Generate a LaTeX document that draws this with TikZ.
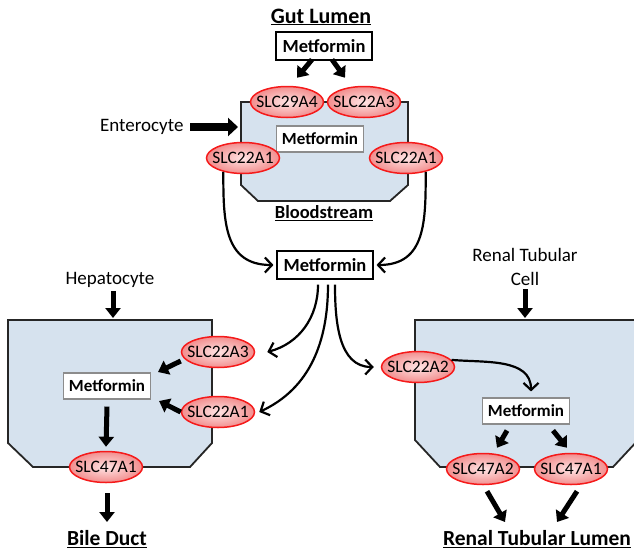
\documentclass[tikz,border=0pt]{standalone}
\usepackage{fontspec}
\setmainfont{Carlito}
\usetikzlibrary{arrows.meta,shapes.geometric,calc}
\definecolor{cellfill}{HTML}{D6E2EE}
\definecolor{slcred}{HTML}{F51A1A}
\definecolor{slcin}{HTML}{FFE4E4}
\definecolor{slcout}{HTML}{F28E8E}
\begin{document}
\begin{tikzpicture}[x=1pt,y=-1pt,
  cell/.style={fill=cellfill,draw=black!85,line width=1.8pt,line join=miter},
  slc/.style={ellipse,draw=slcred,line width=1.5pt,shading=radial,inner color=slcin,outer color=slcout,minimum width=73pt,minimum height=31pt,inner xsep=-6.5pt,inner ysep=0pt,font=\fontsize{17.5}{18}\selectfont},
  metbox/.style={draw=black,line width=1.1pt,fill=white,font=\bfseries\fontsize{18.5}{19}\selectfont,minimum width=96pt,minimum height=28pt,inner sep=0pt},
  metin/.style={draw=black!45,line width=1.1pt,fill=white,font=\bfseries\fontsize{17}{17}\selectfont,minimum width=87pt,minimum height=26pt,inner sep=0pt},
  title/.style={font=\bfseries\fontsize{21.5}{22}\selectfont},
  lbl/.style={font=\fontsize{19}{24}\selectfont,align=center},
  tarr/.style={line width=5pt,-{Triangle[length=10pt,width=15pt]}},
  carr/.style={line width=2.2pt,-{Straight Barb[length=7pt,width=15pt]}},
]
\useasboundingbox (0,0) rectangle (634,551);
\begin{scope}
\clip (0,0) rectangle (634,551);
% cells
\draw[cell] (241,102) -- (408,102) -- (408,185) -- (390,201) -- (258,201) -- (241,185) -- cycle;
\draw[cell] (8,320) -- (212,320) -- (212,443) -- (190,467) -- (33,467) -- (8,443) -- cycle;
\draw[cell] (415,320) -- (640,320) -- (640,438) -- (613,467) -- (440,467) -- (415,440) -- cycle;
\end{scope}

% top
\node[title,font=\bfseries\fontsize{22}{22}\selectfont] (gut) at (321,17) {\underline{Gut Lumen}};
\node[metbox] (mt) at (324,46) {Metformin};
\node[metin] (me) at (320,139) {Metformin};
\node[slc] (e29) at (287,102) {SLC29A4};
\node[slc] (e223) at (364,102) {SLC22A3};
\node[slc] (eL) at (243,158) {SLC22A1};
\node[slc] (eR) at (406,158) {SLC22A1};
\node[lbl,anchor=east] (ent) at (187,127) {Enterocyte};
\coordinate (entTip) at (238,127);
\node[title,font=\bfseries\fontsize{18.5}{19}\selectfont] (blood) at (324,213) {\underline{Bloodstream}};
\node[metbox] (mm) at (325,265) {Metformin};

\draw[tarr] ([xshift=-12pt,yshift=1pt]mt.south) -- ([xshift=10pt,yshift=8pt]e29.north);
\draw[tarr] ([xshift=8pt,yshift=1pt]mt.south) -- ([xshift=-19pt,yshift=8pt]e223.north);
\draw[line width=8.5pt,-{Triangle[length=10pt,width=18pt]}] ([xshift=3pt]ent.east) -- (entTip);

\draw[carr] (eL.215) to[out=-90,in=180,looseness=1.2] ([xshift=-3pt]mm.west);
\draw[carr] (eR.-35) to[out=-90,in=0,looseness=1.2] ([xshift=3pt]mm.east);

% hepatocyte
\node[lbl] (hep) at (110,280) {Hepatocyte};
\coordinate (hepTop) at (113,318);
\node[metin] (hm) at (107,386) {Metformin};
\node[slc] (h3) at (218,352) {SLC22A3};
\node[slc] (h1) at (218,412) {SLC22A1};
\node[slc] (h47) at (106,467) {SLC47A1};
\node[title] (bile) at (107,539) {\underline{Bile Duct}};
\coordinate (bileTop) at (107,522);

\draw[tarr] ([xshift=3pt]hep.south) -- (hepTop);
\draw[tarr] ([yshift=-9pt]h3.west) -- ([xshift=7pt,yshift=14pt]hm.east);
\draw[tarr] (h1.west) -- ([xshift=8pt,yshift=-15pt]hm.east);
\draw[tarr] ([yshift=-7pt]hm.south) -- ([yshift=4pt]h47.north);
\draw[tarr] ([xshift=1pt,yshift=-10pt]h47.south) -- (bileTop);

% renal
\node[lbl] (ren) at (525,267) {Renal Tubular\\Cell};
\coordinate (renTop) at (525,318);
\node[slc] (r22) at (418,367) {SLC22A2};
\node[metin] (rm) at (526,411) {Metformin};
\node[slc] (r47a) at (483,469) {SLC47A2};
\node[slc] (r47b) at (571,469) {SLC47A1};
\node[title] (lumen) at (537,539) {\underline{Renal Tubular Lumen}};
\coordinate (lumA) at (505,522);
\coordinate (lumB) at (557,522);

\draw[tarr] (ren.south) -- (renTop);
\draw[carr] (r22.12) to[out=-5,in=90] ([xshift=5pt,yshift=6pt]rm.north);
\draw[tarr] ([xshift=-19pt,yshift=-6pt]rm.south) -- ([xshift=14pt,yshift=5pt]r47a.north);
\draw[tarr] ([xshift=27pt,yshift=-6pt]rm.south) -- ([xshift=-4pt,yshift=5pt]r47b.north);
\draw[tarr] ([xshift=4pt,yshift=-6pt]r47a.south) -- (lumA);
\draw[tarr] ([xshift=6pt,yshift=-6pt]r47b.south) -- (lumB);

% lower curves
\draw[carr] ([xshift=-7pt,yshift=-5pt]mm.south) to[out=-90,in=15] ([xshift=12pt]h3.east);
\draw[carr] ([xshift=3pt,yshift=-5pt]mm.south) to[out=-90,in=25] ([xshift=4pt]h1.east);
\draw[carr] ([xshift=10pt,yshift=-5pt]mm.south) to[out=-90,in=180] ([xshift=-7pt]r22.west);
\end{tikzpicture}
\end{document}
